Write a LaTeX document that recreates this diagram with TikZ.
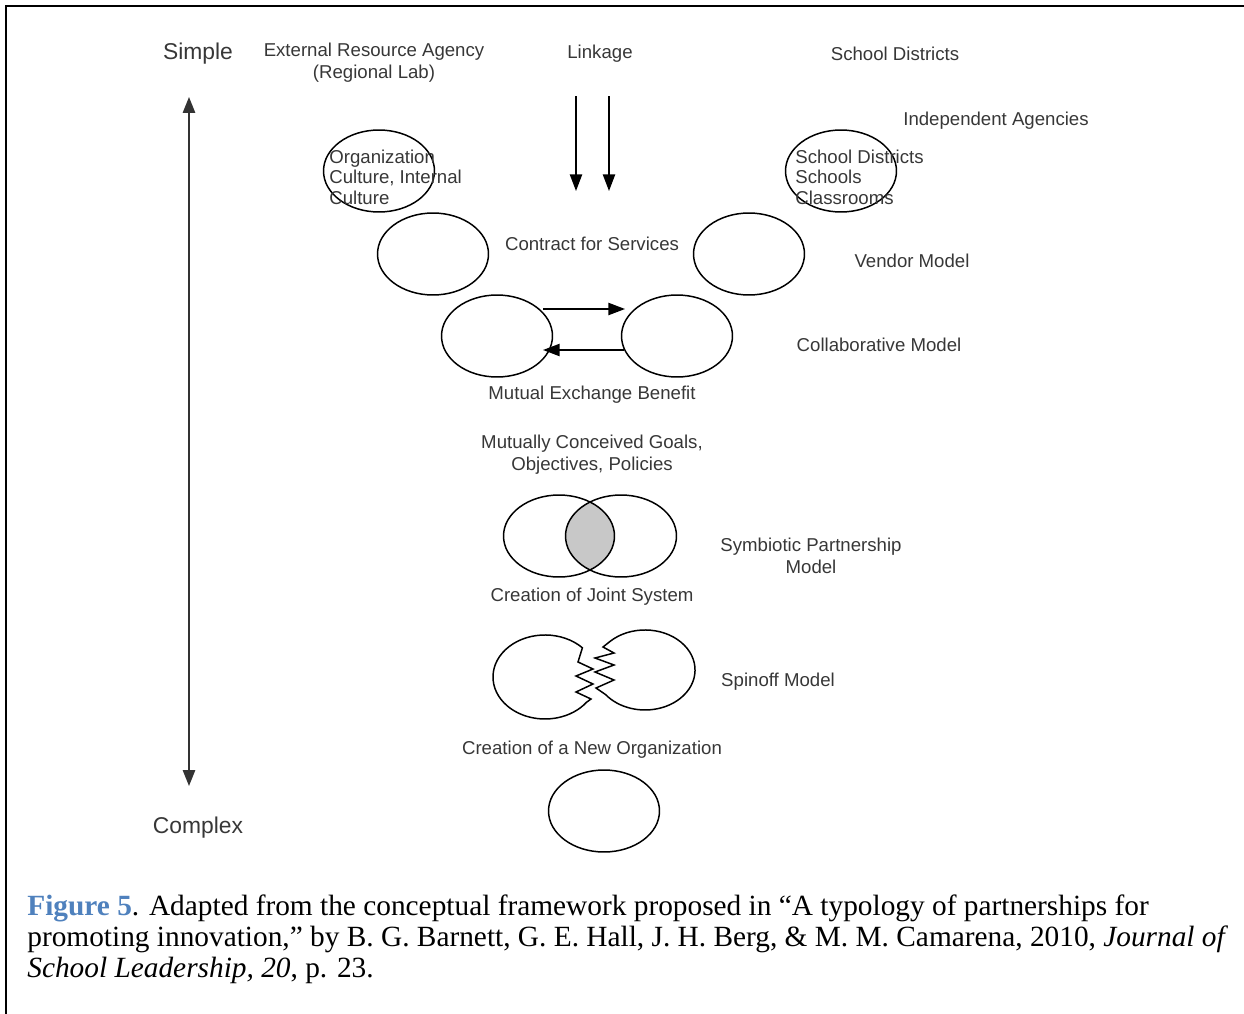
\documentclass[tikz,border=0pt]{standalone}
\usepackage{fontspec}
\setmainfont{Liberation Serif}
\setsansfont{Liberation Sans}
\usetikzlibrary{shapes.geometric, arrows.meta, calc}
\definecolor{labelgray}{RGB}{55, 55, 55}
\definecolor{capblue}{RGB}{79, 129, 189}
\definecolor{overlapgray}{RGB}{200, 200, 200}

\begin{document}
\begin{tikzpicture}[
  x=0.02cm, y=-0.02cm,
  lbl/.style={font=\sffamily\fontsize{10.6}{12.5}\selectfont, text=labelgray, align=center, inner sep=0pt},
  inlbl/.style={lbl, font=\sffamily\fontsize{10.6}{11.6}\selectfont, anchor=west, align=left},
  axislbl/.style={font=\sffamily\fontsize{13}{15}\selectfont, text=labelgray, inner sep=0pt},
  oval/.style={draw, ellipse, line width=0.85pt, minimum width=2.22cm, minimum height=1.64cm, inner sep=0pt},
  arr/.style={line width=0.85pt, -{Triangle[length=9.5pt, width=7pt]}},
  cut/.style={line width=0.85pt, line join=miter}
]
  \useasboundingbox (0,0) rectangle (1244,1014);
  \draw[line width=1.7pt] (6,1014) -- (6,6) -- (1244,6);

  \node[axislbl] (simple) at (198,54) {Simple};
  \node[axislbl] (complex) at (198,828) {Complex};
  \coordinate (axtop) at (189,97);
  \coordinate (axbot) at (189,786);
  \draw[line width=0.85pt, black!80, {Triangle[length=9pt, width=7pt]}-{Triangle[length=9pt, width=7pt]}] (axtop) -- (axbot);

  \node[lbl] (agency) at (374,63) {External Resource Agency\\(Regional Lab)};
  \node[lbl] (linkage) at (600,54) {Linkage};
  \node[lbl] (districts) at (895,54) {School Districts};
  \node[lbl] (indep) at (996,121) {Independent Agencies};

  \coordinate (lkAs) at (576,96);
  \coordinate (lkAe) at (576,191);
  \coordinate (lkBs) at (609,96);
  \coordinate (lkBe) at (609,191);
  \draw[arr] (lkAs) -- (lkAe);
  \draw[arr] (lkBs) -- (lkBe);

  \node[oval] (orgcult) at (379,171) {};
  \node[inlbl] (orgtext) at (329,177) {Organization\\Culture, Internal\\Culture};
  \node[oval] (schsys) at (841,171) {};
  \node[inlbl] (schtext) at (795,177) {School Districts\\Schools\\Classrooms};

  \node[oval] (vendL) at (433,254) {};
  \node[oval] (vendR) at (749,254) {};
  \node[lbl] (contract) at (592,244) {Contract for Services};
  \node[lbl] (vendor) at (912,261) {Vendor Model};

  \node[oval] (colL) at (497,336) {};
  \node[oval] (colR) at (677,336) {};
  \draw[arr] ($(colL.center)+(46,-27)$) -- ($(colR.center)+(-52,-27)$);
  \draw[arr] ($(colR.center)+(-53,14)$) -- ($(colL.center)+(46,14)$);
  \node[lbl] (collab) at (879,345) {Collaborative Model};
  \node[lbl] (mutual) at (592,395) {Mutual Exchange Benefit};
  \node[lbl] (goals) at (592,455) {Mutually Conceived Goals,\\Objectives, Policies};

  \begin{scope}
    \clip (559,536) ellipse [x radius=55.5, y radius=41];
    \fill[overlapgray] (621,536) ellipse [x radius=55.5, y radius=41];
  \end{scope}
  \node[oval] (symL) at (559,536) {};
  \node[oval] (symR) at (621,536) {};
  \node[lbl] (symb) at (811,556) {Symbiotic Partnership\\Model};
  \node[lbl] (joint) at (592,597) {Creation of Joint System};

  \draw[cut] (582.4,647.8) arc[start angle=-44, end angle=-323, x radius=52, y radius=42]
    -- (591,699) -- (576,692) -- (593,684) -- (576,676) -- (593,669) -- (578,662) -- cycle;
  \draw[cut] (610.3,641.2) arc[start angle=-134, end angle=142, x radius=50, y radius=40]
    -- (596,688) -- (614,680) -- (595,672) -- (614,665) -- (595,658) -- (614,653) -- (603,647) -- cycle;
  \node[lbl] (spinoff) at (778,682) {Spinoff Model};
  \node[lbl] (neworgtext) at (592,750) {Creation of a New Organization};
  \node[oval] (neworg) at (604,811) {};

  \node[anchor=north west, inner sep=0pt, align=left, font=\fontsize{16.7}{17.9}\selectfont] (caption) at (27,894)
    {\textcolor{capblue}{\textbf{Figure 5}}. Adapted from the conceptual framework proposed in “A typology of partnerships for\\
     promoting innovation,” by B. G. Barnett, G. E. Hall, J. H. Berg, \& M. M. Camarena, 2010, \textit{Journal of}\\
     \textit{School Leadership, 20}, p. 23.};
\end{tikzpicture}
\end{document}
